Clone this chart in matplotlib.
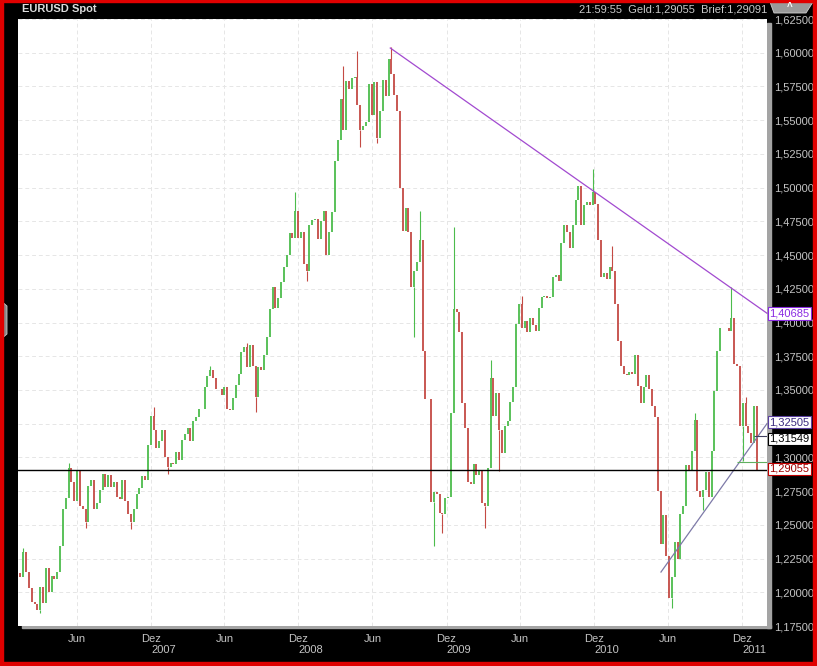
import numpy as np
import pandas as pd
import matplotlib
matplotlib.use('Agg')
import matplotlib.pyplot as plt
from matplotlib.patches import Rectangle, Polygon

# weekly closes (Fridays)
c2006 = [1.214, 1.211, 1.230, 1.215, 1.203, 1.193, 1.191, 1.187, 1.204, 1.192, 1.218, 1.200, 1.212,
         1.210, 1.215, 1.234, 1.262, 1.270, 1.292, 1.282, 1.268, 1.290, 1.264, 1.262, 1.252, 1.279,
         1.283, 1.262, 1.266, 1.276, 1.288, 1.278, 1.287, 1.278, 1.282, 1.271, 1.269, 1.283, 1.268,
         1.258, 1.252, 1.262, 1.273, 1.277, 1.286, 1.283, 1.309, 1.331, 1.320, 1.307, 1.312, 1.320]
c2007 = [1.300, 1.293, 1.296, 1.295, 1.304, 1.298, 1.313, 1.317, 1.322, 1.312, 1.327, 1.330, 1.336,
         1.336, 1.352, 1.360, 1.365, 1.359, 1.351, 1.351, 1.346, 1.352, 1.336, 1.335, 1.344, 1.354,
         1.362, 1.378, 1.382, 1.367, 1.383, 1.368, 1.345, 1.367, 1.365, 1.376, 1.389, 1.410, 1.426,
         1.411, 1.418, 1.430, 1.441, 1.450, 1.466, 1.463, 1.483, 1.463, 1.467, 1.443, 1.438, 1.472]
c2008 = [1.476, 1.477, 1.462, 1.475, 1.483, 1.450, 1.467, 1.482, 1.520, 1.535, 1.566, 1.543, 1.579,
         1.573, 1.581, 1.582, 1.561, 1.543, 1.546, 1.549, 1.577, 1.554, 1.578, 1.537, 1.557, 1.580,
         1.568, 1.595, 1.584, 1.569, 1.557, 1.500, 1.468, 1.485, 1.467, 1.426, 1.438, 1.445, 1.461,
         1.379, 1.343, 1.343, 1.267, 1.274, 1.273, 1.259, 1.258, 1.270, 1.271, 1.333, 1.410, 1.408]
c2009 = [1.393, 1.340, 1.322, 1.282, 1.280, 1.295, 1.287, 1.291, 1.266, 1.264, 1.292, 1.359, 1.331,
         1.348, 1.320, 1.303, 1.323, 1.327, 1.341, 1.352, 1.399, 1.414, 1.396, 1.401, 1.393, 1.403,
         1.398, 1.394, 1.411, 1.419, 1.420, 1.418, 1.419, 1.434, 1.435, 1.431, 1.459, 1.472, 1.467,
         1.455, 1.472, 1.491, 1.501, 1.472, 1.487, 1.489, 1.487, 1.497, 1.488, 1.461, 1.434, 1.437]
c2010 = [1.432, 1.441, 1.438, 1.414, 1.386, 1.368, 1.362, 1.361, 1.363, 1.362, 1.376, 1.353, 1.340,
         1.352, 1.361, 1.351, 1.338, 1.330, 1.275, 1.236, 1.257, 1.227, 1.196, 1.211, 1.237, 1.225,
         1.258, 1.264, 1.294, 1.290, 1.305, 1.328, 1.275, 1.271, 1.276, 1.289, 1.271, 1.305, 1.349,
         1.379, 1.396, 1.396, 1.396, 1.394, 1.403, 1.369, 1.368, 1.323, 1.340, 1.323, 1.318, 1.311,
         1.338]
c2011 = [1.2906]

# intra-week extremes that stick out of the weekly bodies
spike_dates = ['2006-01-20', '2006-03-03', '2006-05-12', '2006-06-23', '2006-10-13', '2006-12-08',
               '2007-01-12', '2007-04-27', '2007-07-27', '2007-08-17', '2007-11-23', '2007-12-21',
               '2008-03-21', '2008-04-25', '2008-05-02', '2008-06-13', '2008-07-18', '2008-09-12',
               '2008-09-26', '2008-10-31', '2008-11-21', '2008-12-19', '2009-03-06', '2009-03-20',
               '2009-04-10', '2009-06-05', '2009-11-27', '2010-01-15', '2010-06-11', '2010-08-06',
               '2010-08-27', '2010-11-05', '2010-12-03', '2010-12-10']
spike_vals = [1.233, 1.185, 1.296, 1.248, 1.247, 1.337,
              1.288, 1.368, 1.385, 1.334, 1.497, 1.431,
              1.590, 1.601, 1.530, 1.533, 1.604, 1.389,
              1.483, 1.234, 1.244, 1.471, 1.248, 1.372,
              1.290, 1.420, 1.514, 1.457, 1.188, 1.333,
              1.261, 1.426, 1.297, 1.345]

# drawn objects
top_line_dates = ['2008-07-15', '2011-02-01']
top_line_vals = [1.6035, 1.40685]
low_line_dates = ['2010-05-15', '2011-02-01']
low_line_vals = [1.2150, 1.32505]
last_price = 1.29055
marker_price = 1.31549
green_level = 1.2965

month_ticks = ['2006-06-01', '2006-12-01', '2007-06-01', '2007-12-01', '2008-06-01',
               '2008-12-01', '2009-06-01', '2009-12-01', '2010-06-01', '2010-12-01']
month_labels = ['Jun', 'Dez'] * 5
year_ticks = ['2007-01-01', '2008-01-01', '2009-01-01', '2010-01-01', '2011-01-01']
year_labels = ['2007', '2008', '2009', '2010', '2011']
y_ticks = np.arange(1.175, 1.6251, 0.025)

closes = np.array(c2006 + c2007 + c2008 + c2009 + c2010 + c2011)
dates = pd.date_range('2006-01-06', periods=len(closes), freq='W-FRI')

W, H = 817, 666
fam = ['Liberation Sans', 'DejaVu Sans']
fig = plt.figure(figsize=(W / 100, H / 100), dpi=100, facecolor='black')
ax = fig.add_axes([18 / W, (H - 626) / H, (767 - 18) / W, (626 - 19) / H])
ax.set_facecolor('white')
ax.set_xlim(pd.Timestamp('2006-01-07'), pd.Timestamp('2011-02-01'))
ax.set_ylim(1.175, 1.625)
for s in ax.spines.values():
    s.set_visible(False)

# axes ticks / grid; the 1,32500 label is covered by the trend-line box in the original
ylabels = [f'{v:.5f}'.replace('.', ',') for v in y_ticks]
ylabels = ['' if s == '1,32500' else s for s in ylabels]
ax.set_xticks(pd.to_datetime(month_ticks), labels=month_labels)
ax.set_xticks(pd.to_datetime(year_ticks), labels=year_labels, minor=True)
ax.set_yticks(y_ticks, labels=ylabels)
ax.yaxis.tick_right()
ax.tick_params(axis='both', which='both', length=0, colors='#c4c4c4', labelsize=8)
ax.tick_params(axis='x', which='major', pad=6)
ax.tick_params(axis='x', which='minor', pad=14)
ax.tick_params(axis='y', pad=5)
for lab in ax.get_xticklabels(which='both') + ax.get_yticklabels():
    lab.set_family(fam)
ax.grid(True, which='major', color='#e6e6e6', linestyle=(0, (4, 3)), linewidth=0.7)
ax.set_axisbelow(True)

# candles (open = previous close)
op = closes[:-1]
cl = closes[1:]
d = dates[1:]
up = cl >= op
green, redc = '#4cbc4c', '#c44a44'

# thin wicks to the intra-week extremes
sp_d = pd.to_datetime(spike_dates)
sp_v = np.array(spike_vals)
idx = d.get_indexer(sp_d)
body_lo = np.minimum(op, cl)[idx]
body_hi = np.maximum(op, cl)[idx]
wick_from = np.where(sp_v > body_hi, body_hi, body_lo)
wick_col = np.where(up[idx], green, redc)
ax.vlines(sp_d, wick_from, sp_v, colors=wick_col, linewidth=0.8)

ax.vlines(d[up], op[up], cl[up], color=green, linewidth=1.3)
ax.vlines(d[~up], op[~up], cl[~up], color=redc, linewidth=1.3)

# trend lines and levels
ax.plot(pd.to_datetime(top_line_dates), top_line_vals, color='#a24ad0', linewidth=0.9, clip_on=False)
ax.plot(pd.to_datetime(low_line_dates), low_line_vals, color='#7d7aa8', linewidth=0.9, clip_on=False)
ax.axhline(last_price, color='black', linewidth=1.0)
ax.hlines(marker_price, pd.Timestamp('2011-01-01'), pd.Timestamp('2011-02-01'), color='#404060', linewidth=0.8)
ax.hlines(green_level, pd.Timestamp('2010-11-20'), pd.Timestamp('2011-02-01'), color='#60b060', linewidth=0.8)

# value boxes on the price scale (the black one sits just under the purple one)
boxes = [(1.40685, 1.40685, '#8a2be2', '#8a2be2'), (1.32505, 1.3262, '#5a3fa0', '#3a2a80'),
         (1.31549, 1.3137, 'black', 'black'), (last_price, 1.2915, '#c00000', '#a00000')]
for val, ypos, ec, tc in boxes:
    ax.text(1.003, ypos, f'{val:.5f}'.replace('.', ','), transform=ax.get_yaxis_transform(),
            ha='left', va='center', fontsize=8, family=fam, color=tc, clip_on=False, zorder=5,
            bbox=dict(boxstyle='square,pad=0.12', fc='white', ec=ec, lw=0.8))

# shadow under the plot area
fig.add_artist(Rectangle((767 / W, (H - 628) / H), 4 / W, (628 - 23) / H, color='#a4a4a4', zorder=0))
fig.add_artist(Rectangle((22 / W, (H - 628) / H), (771 - 22) / W, 3 / H, color='#a4a4a4', zorder=0))

# header
fig.text(22 / W, 1 - 9 / H, 'EURUSD Spot', color='#dcdcdc', fontsize=8, family=fam, va='center',
         weight='bold')
fig.text(767 / W, 1 - 9 / H, '21:59:55  Geld:1,29055  Brief:1,29091', color='#c8c8c8',
         fontsize=8, family=fam, va='center', ha='right')
fig.add_artist(Polygon([(770 / W, 1 - 2 / H), (813 / W, 1 - 2 / H), (806 / W, 1 - 13 / H),
                        (774 / W, 1 - 13 / H)], closed=True, fc='#9a9a9a', ec='#d0d0d0', lw=0.6))
fig.text(790 / W, 1 - 7 / H, '^', color='white', fontsize=7, family=fam, ha='center', va='center',
         weight='bold')
fig.add_artist(Polygon([(0, 1 - 300 / H), (7 / W, 1 - 306 / H), (7 / W, 1 - 334 / H), (0, 1 - 340 / H)],
                       closed=True, fc='#8a8a8a', ec='#c8c8c8', lw=0.6))

# red frame
red = '#e00000'
fig.add_artist(Rectangle((0, 1 - 2 / H), 1, 2 / H, color=red))
fig.add_artist(Rectangle((0, 0), 1, 4 / H, color=red))
fig.add_artist(Rectangle((0, 0), 3 / W, 1, color=red))
fig.add_artist(Rectangle((1 - 4 / W, 0), 4 / W, 1, color=red))

fig.savefig('out.png', dpi=100, facecolor='black')
